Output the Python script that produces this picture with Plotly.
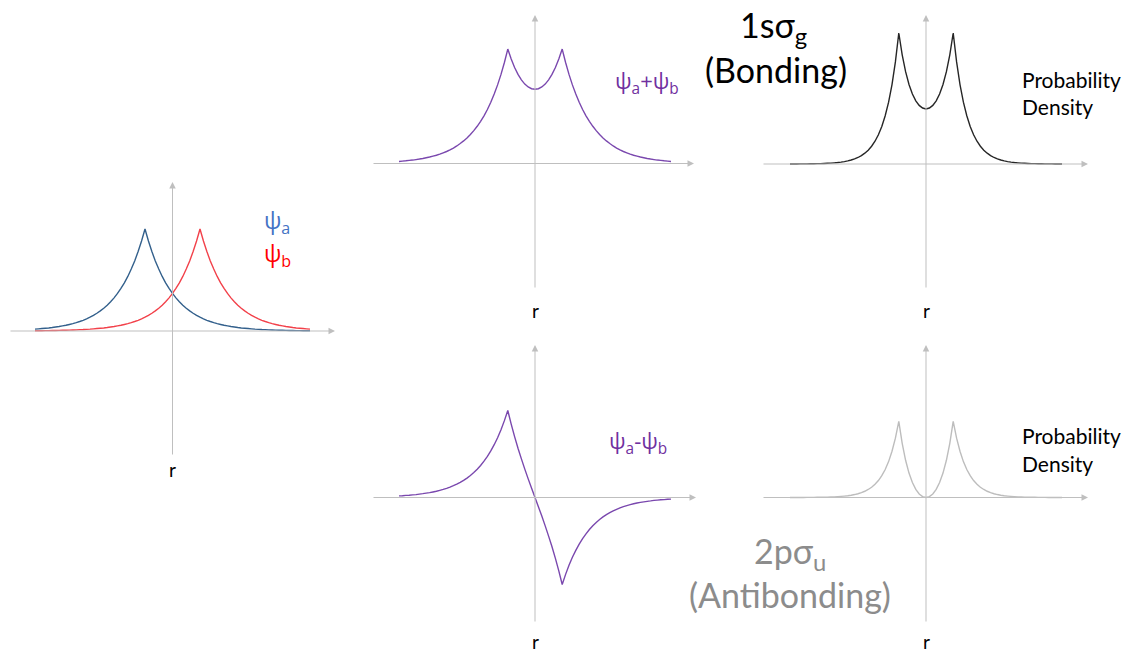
import plotly.graph_objects as go

# Canvas size in pixels
W, H = 1133, 654

# Sample positions along the internuclear axis (nuclei sit at r = -1 and r = +1)
R_GRID = [i * 0.125 - 5 for i in range(81)]

# Single-atom 1s amplitude versus distance from its own nucleus,
# sampled every 0.125 units (distance 0 .. 6)
PSI_PROFILE = [
    1.000, 0.883, 0.779, 0.687, 0.607, 0.535, 0.472, 0.417,
    0.368, 0.325, 0.287, 0.253, 0.223, 0.197, 0.174, 0.153,
    0.135, 0.119, 0.105, 0.093, 0.082, 0.072, 0.064, 0.056,
    0.050, 0.044, 0.039, 0.034, 0.030, 0.027, 0.024, 0.021,
    0.018, 0.016, 0.014, 0.013, 0.011, 0.010, 0.009, 0.008,
    0.007, 0.006, 0.005, 0.005, 0.004, 0.004, 0.003, 0.003,
    0.002,
]
STEP = 0.125
NUCLEUS_A, NUCLEUS_B = -1.0, 1.0


def orbital(center):
    return [PSI_PROFILE[int(round(abs(r - center) / STEP))] for r in R_GRID]


psi_a = orbital(NUCLEUS_A)
psi_b = orbital(NUCLEUS_B)
psi_plus = [a + b for a, b in zip(psi_a, psi_b)]
psi_minus = [a - b for a, b in zip(psi_a, psi_b)]
dens_plus = [v * v for v in psi_plus]
dens_minus = [v * v for v in psi_minus]

# Panel geometry (pixels): x-axis extent, origin, pixels per unit, y-axis extent
PANELS = {
    "1": dict(xl=9, xr=335, cx=172.5, ux=27.5, yt=182, yb=456, cy=331, uy=102.0),
    "2": dict(xl=372, xr=694, cx=535, ux=27.2, yt=15, yb=289, cy=163.5, uy=100.8),
    "3": dict(xl=762, xr=1088, cx=926, ux=27.2, yt=15, yb=289, cy=164, uy=101.7),
    "4": dict(xl=372, xr=696, cx=535, ux=27.2, yt=345, yb=623, cy=497.5, uy=100.6),
    "5": dict(xl=762, xr=1088, cx=926, ux=27.2, yt=345, yb=623, cy=497.5, uy=101.7),
}
PAD = 8
AXIS_COLOR = "#BFBFBF"

fig = go.Figure()
layout_axes = {}
annotations = []

for key, p in PANELS.items():
    xname = "xaxis" if key == "1" else f"xaxis{key}"
    yname = "yaxis" if key == "1" else f"yaxis{key}"
    xref = "x" if key == "1" else f"x{key}"
    yref = "y" if key == "1" else f"y{key}"
    x0, x1 = p["xl"] - PAD, p["xr"] + PAD
    y0, y1 = p["yt"] - PAD, p["yb"] + PAD
    layout_axes[xname] = dict(
        domain=[x0 / W, x1 / W],
        range=[(x0 - p["cx"]) / p["ux"], (x1 - p["cx"]) / p["ux"]],
        visible=False, anchor=yref, fixedrange=True,
    )
    layout_axes[yname] = dict(
        domain=[1 - y1 / H, 1 - y0 / H],
        range=[(p["cy"] - y1) / p["uy"], (p["cy"] - y0) / p["uy"]],
        visible=False, anchor=xref, fixedrange=True,
    )
    # horizontal r axis with arrow
    annotations.append(dict(
        xref=xref, yref=yref, axref=xref, ayref=yref,
        x=(p["xr"] - p["cx"]) / p["ux"], y=0,
        ax=(p["xl"] - p["cx"]) / p["ux"], ay=0,
        text="", showarrow=True, arrowhead=2, arrowsize=1.3,
        arrowwidth=1, arrowcolor=AXIS_COLOR, standoff=0,
    ))
    # vertical axis with arrow
    annotations.append(dict(
        xref=xref, yref=yref, axref=xref, ayref=yref,
        x=0, y=(p["cy"] - p["yt"]) / p["uy"],
        ax=0, ay=(p["cy"] - p["yb"]) / p["uy"],
        text="", showarrow=True, arrowhead=2, arrowsize=1.3,
        arrowwidth=1, arrowcolor=AXIS_COLOR, standoff=0,
    ))

LW = 1.4
curves = [
    ("1", psi_a, "#33608C"),
    ("1", psi_b, "#F2414A"),
    ("2", psi_plus, "#7A48AE"),
    ("3", dens_plus, "#262626"),
    ("4", psi_minus, "#7A48AE"),
    ("5", dens_minus, "#BDBDBD"),
]
for key, ys, color in curves:
    fig.add_trace(go.Scatter(
        x=R_GRID, y=ys, mode="lines",
        line=dict(color=color, width=LW, simplify=False),
        xaxis="x" if key == "1" else f"x{key}",
        yaxis="y" if key == "1" else f"y{key}",
        hoverinfo="skip", showlegend=False,
    ))

CAL = "Lato, 'Noto Sans', sans-serif"
SEG = "'Open Sans', 'Noto Sans', sans-serif"


def text(s, x, y, size, color, family, xanchor="center"):
    annotations.append(dict(
        xref="paper", yref="paper", x=x / W, y=1 - y / H,
        text=s, showarrow=False, xanchor=xanchor, yanchor="middle",
        font=dict(size=size, color=color, family=family),
    ))


# r labels under each vertical axis
for x, y in [(172, 470), (535, 310), (926, 310), (535, 641), (926, 641)]:
    text("r", x, y, 19, "#000000", CAL)

# wavefunction labels
text("ψ<sub>a</sub>", 262, 221, 23, "#4472C4", SEG, "left")
text("ψ<sub>b</sub>", 262, 254, 23, "#FF0000", SEG, "left")
text("ψ<sub>a</sub>+ψ<sub>b</sub>", 613, 82, 22, "#7030A0", SEG, "left")
text("ψ<sub>a</sub>-ψ<sub>b</sub>", 607, 442, 22, "#7030A0", SEG, "left")

# orbital names
text("1sσ<sub>g</sub>", 773, 27, 34, "#000000", CAL)
text("(Bonding)", 776, 70, 34, "#000000", CAL)
text("2pσ<sub>u</sub>", 790, 553, 34, "#8C8C8C", CAL)
text("(Antibonding)", 790, 594, 34, "#8C8C8C", CAL)

# probability density captions
text("Probability", 1020, 79, 21, "#000000", CAL, "left")
text("Density", 1020, 106, 21, "#000000", CAL, "left")
text("Probability", 1020, 435, 21, "#000000", CAL, "left")
text("Density", 1020, 463, 21, "#000000", CAL, "left")

fig.update_layout(
    width=W, height=H,
    margin=dict(l=0, r=0, t=0, b=0),
    paper_bgcolor="white", plot_bgcolor="rgba(0,0,0,0)",
    showlegend=False,
    annotations=annotations,
    **layout_axes,
)

fig.write_html("out.html", config={"displayModeBar": False})
